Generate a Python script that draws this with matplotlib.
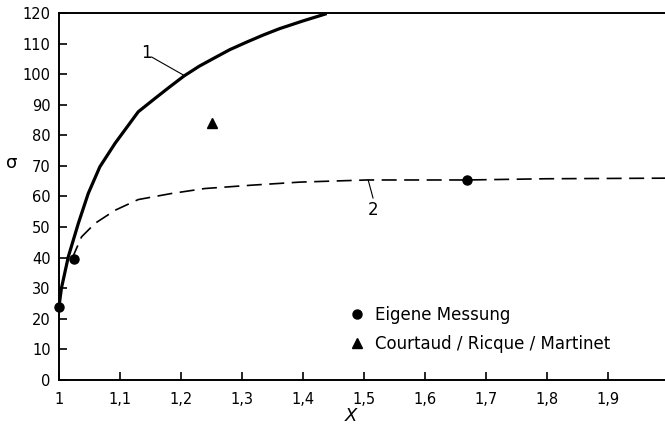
import matplotlib
matplotlib.use("Agg")
import matplotlib.pyplot as plt
from matplotlib.lines import Line2D

# curve 1 (solid line)
curve1_x = [1.0, 1.004, 1.0153, 1.0317, 1.048, 1.067, 1.092, 1.13, 1.157, 1.18,
            1.205, 1.23, 1.253, 1.28, 1.308, 1.335, 1.362, 1.40, 1.439]
curve1_y = [24, 30, 40.3, 51.2, 61, 69.7, 77.4, 87.7, 92, 95.6,
            99.4, 102.6, 105.1, 108, 110.5, 112.8, 114.9, 117.4, 119.8]

# curve 2 (dashed line)
curve2_x = [1.021, 1.037, 1.059, 1.092, 1.13, 1.185, 1.239, 1.316, 1.395, 1.505,
            1.669, 1.8, 2.0]
curve2_y = [39.5, 46.8, 51.2, 55.5, 59, 61, 62.6, 63.7, 64.7, 65.4, 65.4, 65.8, 66]

# own measurements (circles) and Courtaud / Ricque / Martinet (triangle)
meas_x = [1.0, 1.025, 1.669]
meas_y = [24, 39.5, 65.4]
court_x = [1.251]
court_y = [84]

# tick positions and labels
x_ticks = [1.0, 1.1, 1.2, 1.3, 1.4, 1.5, 1.6, 1.7, 1.8, 1.9, 2.0]
x_tick_labels = ["1", "1,1", "1,2", "1,3", "1,4", "1,5", "1,6", "1,7", "1,8", "1,9", "2"]
y_ticks = list(range(0, 121, 10))

# set up the figure, the axes reach a bit past the right edge like in the scan
fig = plt.figure(figsize=(6.65, 4.26), dpi=100)
ax = fig.add_axes([0.0887, 0.108, 0.917, 0.8615])

ax.plot(curve1_x, curve1_y, color="black", lw=2.3, solid_capstyle="butt",
        solid_joinstyle="round")
ax.plot(curve2_x, curve2_y, color="black", lw=1.2, dashes=(9, 4.5))
ax.plot(meas_x, meas_y, "o", color="black", ms=6.5, clip_on=False, zorder=5)
ax.plot(court_x, court_y, "^", color="black", ms=6.5, zorder=5)

# curve labels with leader lines
ax.text(1.144, 107, "1", fontsize=12, ha="center", va="center")
ax.plot([1.152, 1.205], [105.6, 99.6], color="black", lw=0.8)
ax.text(1.515, 55.5, "2", fontsize=12, ha="center", va="center")
ax.plot([1.507, 1.515], [65.4, 59.5], color="black", lw=0.8)

# axis limits, ticks
ax.set_xlim(1, 2)
ax.set_ylim(0, 120)
ax.set_xticks(x_ticks)
ax.set_xticklabels(x_tick_labels)
ax.set_yticks(y_ticks)
ax.tick_params(direction="in", length=6, width=1.2, labelsize=10.5)
ax.tick_params(axis="x", pad=9)
ax.tick_params(axis="y", pad=6)
for side in ["left", "bottom", "top", "right"]:
    ax.spines[side].set_linewidth(1.4)

# axis labels
ax.set_xlabel("X", fontsize=13, style="italic")
ax.xaxis.set_label_coords(0.479, -0.074)
ax.set_ylabel("σ", fontsize=13, rotation=0)
ax.yaxis.set_label_coords(-0.077, 0.567)

# legend with markers only
handles = [Line2D([], [], ls="none", marker="o", color="black", ms=6.5),
           Line2D([], [], ls="none", marker="^", color="black", ms=6.5)]
ax.legend(handles, ["Eigene Messung", "Courtaud / Ricque / Martinet"],
          loc="upper left", bbox_to_anchor=(0.48, 0.2016), frameon=False,
          fontsize=12, handlelength=0.6, handletextpad=0.8, labelspacing=0.67,
          borderpad=0, borderaxespad=0)

fig.savefig("out.png")
